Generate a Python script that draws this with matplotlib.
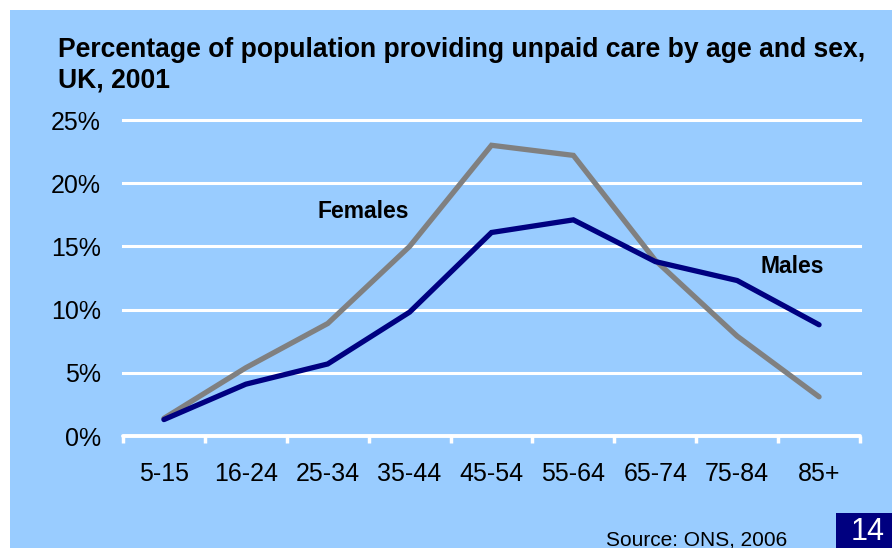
import matplotlib.pyplot as plt
from matplotlib.patches import Rectangle

plt.rcParams['font.family'] = ['Liberation Sans', 'DejaVu Sans']

age_groups = ['5-15', '16-24', '25-34', '35-44', '45-54', '55-64', '65-74', '75-84', '85+']
females = [1.4, 5.4, 8.9, 15.0, 23.0, 22.2, 13.9, 7.9, 3.1]
males = [1.3, 4.1, 5.7, 9.8, 16.1, 17.1, 13.8, 12.3, 8.8]
y_ticks = [0, 5, 10, 15, 20, 25]

bg = '#99CCFF'
navy = '#000080'
grey = '#808080'

fig = plt.figure(figsize=(8.92, 5.48), dpi=100)
fig.patch.set_facecolor('white')
# blue panel with a thin white margin top/left
fig.patches.append(Rectangle((10 / 892, 0), 1, 1 - 10 / 548, transform=fig.transFigure,
                             facecolor=bg, edgecolor='none', zorder=-5))

ax = fig.add_axes([123 / 892, (548 - 436) / 548, (860 - 123) / 892, (436 - 120) / 548])
ax.set_facecolor(bg)
ax.patch.set_alpha(0)

x = list(range(len(age_groups)))
ax.plot(x, females, color=grey, lw=3.8, solid_capstyle='round', solid_joinstyle='miter', zorder=3)
ax.plot(x, males, color=navy, lw=3.8, solid_capstyle='round', solid_joinstyle='miter', zorder=4)

ax.set_xlim(-0.5, len(age_groups) - 0.5)
ax.set_ylim(0, 25)
ax.set_yticks(y_ticks)
ax.set_yticklabels([f'{v}%' for v in y_ticks], fontsize=18)
for v in y_ticks[1:]:
    ax.axhline(v, color='white', lw=2.2, zorder=1, clip_on=False)

ax.set_xticks(x)
ax.set_xticklabels(age_groups, fontsize=18)
ax.set_xticks([i - 0.5 for i in range(len(age_groups) + 1)], minor=True)
ax.tick_params(axis='x', which='major', length=0, pad=19)
ax.tick_params(axis='x', which='minor', length=5, width=2.5, color='white', direction='out')
ax.tick_params(axis='y', length=0, pad=16)

for s in ['top', 'right', 'left']:
    ax.spines[s].set_visible(False)
ax.spines['bottom'].set_color('white')
ax.spines['bottom'].set_linewidth(2.8)
ax.spines['bottom'].set_capstyle('round')

ax.text(2.43, 17.8, 'Females', fontsize=16.5, fontweight='bold', ha='center', va='center')
ax.text(7.67, 13.4, 'Males', fontsize=16.5, fontweight='bold', ha='center', va='center')

fig.text(58 / 892, 1 - 50 / 548, 'Percentage of population providing unpaid care by age and sex,',
         fontsize=19.1, fontweight='bold', ha='left', va='center')
fig.text(58 / 892, 1 - 80 / 548, 'UK, 2001',
         fontsize=19.1, fontweight='bold', ha='left', va='center')

fig.text(697 / 892, 1 - 545 / 548, 'Source: ONS, 2006', fontsize=15, ha='center', va='baseline')
fig.patches.append(Rectangle((836 / 892, 0), 56 / 892, 35 / 548, transform=fig.transFigure,
                             facecolor=navy, edgecolor='none', zorder=-4))
fig.text(868 / 892, 1 / 548, '14', fontsize=22, color='white', ha='center', va='bottom')

plt.savefig('out.png', dpi=100, facecolor=fig.get_facecolor())
